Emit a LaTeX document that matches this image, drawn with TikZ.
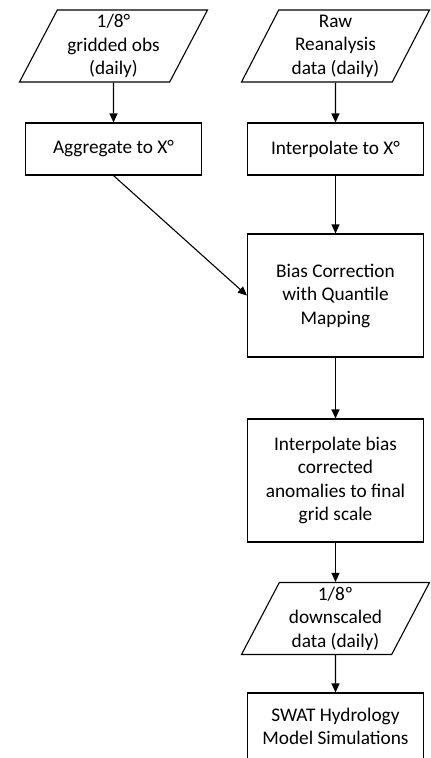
\documentclass[tikz,border=0pt]{standalone}
\usepackage{fontspec}
\setmainfont{Carlito}
\usetikzlibrary{shapes.geometric,arrows.meta}

\begin{document}
\begin{tikzpicture}[x=1pt,y=-1pt,line width=1.1pt,
  font=\fontsize{19.3}{23.5}\selectfont,
  databox/.style={draw,trapezium,trapezium left angle=60,trapezium right angle=120,
    trapezium stretches body,minimum width=188pt,minimum height=72pt,
    inner xsep=-13pt,inner ysep=1pt,align=center},
  procbox/.style={draw,rectangle,minimum width=176pt,inner sep=2pt,align=center},
  flow/.style={-{Triangle[length=9pt,width=8pt]}}]
  \path[fill=white,use as bounding box] (0,0) rectangle (431,758);
  \clip (0,0) rectangle (431,758);
  % inputs
  \node[databox] (obs) at (113.5,46) {1/8°\\gridded obs\\(daily)};
  \node[databox] (raw) at (335.5,46) {Raw\\Reanalysis\\data (daily)};
  % regridding
  \node[procbox,minimum height=52pt] (agg) at (113.5,149) {Aggregate to X°};
  \node[procbox,minimum height=52pt] (interp) at (335.5,149) {Interpolate to X°};
  % correction and downscaling
  \node[procbox,minimum height=123pt] (bias) at (335.5,295.5) {Bias Correction\\with Quantile\\Mapping};
  \node[procbox,minimum height=123pt] (ibias) at (335.5,480.5) {Interpolate bias\\corrected\\anomalies to final\\grid scale};
  \node[databox] (down) at (335.5,618.5) {1/8º\\downscaled\\data (daily)};
  \node[procbox,minimum height=67pt] (swat) at (335.5,726.5) {SWAT Hydrology\\Model Simulations};
  % flow
  \draw[flow] (obs) -- (agg);
  \draw[flow] (raw) -- (interp);
  \draw[flow] (agg.south) -- (bias.west);
  \draw[flow] (interp) -- (bias);
  \draw[flow] (bias) -- (ibias);
  \draw[flow] (ibias) -- (down);
  \draw[flow] (down) -- (swat);
\end{tikzpicture}
\end{document}
